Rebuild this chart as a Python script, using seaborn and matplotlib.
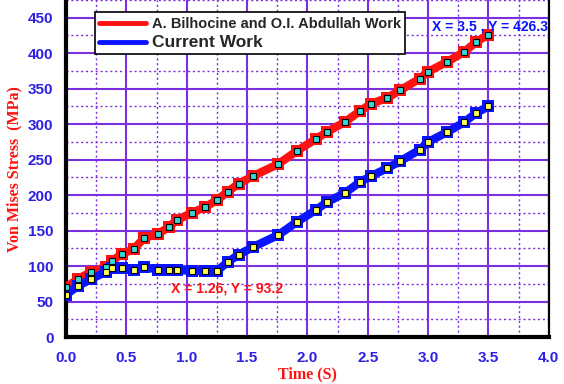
import numpy as np
import pandas as pd
import matplotlib
matplotlib.use("Agg")
import matplotlib.pyplot as plt
from matplotlib.lines import Line2D
from matplotlib.ticker import MultipleLocator
import seaborn as sns

# Data
time_s = [0, 0.1, 0.21, 0.33, 0.38, 0.46, 0.56, 0.65, 0.76, 0.85, 0.92, 1.04, 1.15, 1.25,
          1.34, 1.43, 1.55, 1.76, 1.91, 2.07, 2.16, 2.31, 2.44, 2.53, 2.66, 2.77, 2.93,
          3.0, 3.16, 3.3, 3.4, 3.5]
bilhocine = [70, 82, 92, 99, 107, 117, 124, 140, 145, 155, 165, 175, 183, 193, 205, 216,
             227, 244, 262, 279, 289, 303, 319, 329, 337, 348, 364, 374, 388, 402, 416, 426.3]
current = [60, 72, 82, 92, 97, 97, 95, 99, 95, 95, 95, 93.2, 93, 93, 106, 116, 127, 144,
           162, 179, 190, 203, 219, 227, 238, 248, 264, 275, 289, 303, 316, 325]
series_names = ["A. Bilhocine and O.I. Abdullah Work", "Current Work"]

RED = "#ff1212"
BLUE = "#0a14ff"
TICK_BLUE = "#2d1fe6"
GRID = "#7a2fe0"

df = pd.DataFrame({
    "Time": time_s * 2,
    "Stress": bilhocine + current,
    "Series": [series_names[0]] * len(time_s) + [series_names[1]] * len(time_s),
})

sns.set_style("white")
plt.rcParams["font.family"] = ["Liberation Sans", "DejaVu Sans"]

fig = plt.figure(figsize=(5.64, 3.84), dpi=100)
ax = fig.add_axes([0.117, 0.122, 0.856, 0.878])

# thick lines built from big square markers
sns.lineplot(data=df, x="Time", y="Stress", hue="Series", palette=[RED, BLUE],
             linewidth=6, marker="s", markersize=8.5, markeredgewidth=0,
             legend=False, ax=ax, zorder=3, solid_capstyle="butt")
# small highlight squares
ax.plot(time_s, bilhocine, ls="none", marker="s", markersize=3.8, mfc="#3ad6d6",
        mec="black", mew=0.8, zorder=4)
ax.plot(time_s, current, ls="none", marker="s", markersize=3.8, mfc="#ffff55",
        mec="black", mew=0.8, zorder=4)

ax.set_xlim(0, 4.0)
ax.set_ylim(0, 475)
ax.xaxis.set_major_locator(MultipleLocator(0.5))
ax.xaxis.set_minor_locator(MultipleLocator(0.25))
ax.yaxis.set_major_locator(MultipleLocator(50))
ax.yaxis.set_minor_locator(MultipleLocator(25))
ax.set_xticks(np.arange(0, 4.01, 0.5))
ax.set_xticklabels([f"{v:.1f}" for v in np.arange(0, 4.01, 0.5)])
ax.set_yticks(np.arange(0, 451, 50))

ax.grid(True, which="major", color=GRID, lw=1.5, zorder=0)
ax.grid(True, which="minor", color=GRID, lw=1.0, ls=(0, (1.5, 2)), zorder=0)
ax.set_axisbelow(True)

for lab in ax.get_xticklabels() + ax.get_yticklabels():
    lab.set_color(TICK_BLUE)
    lab.set_fontweight("bold")
    lab.set_fontsize(11)
ax.tick_params(which="major", direction="out", length=5, width=2.2, color="black", pad=4)
ax.tick_params(which="minor", direction="out", length=3, width=1.8, color="black")
ax.tick_params(axis="x", pad=5)

ax.spines["left"].set_linewidth(3)
ax.spines["bottom"].set_linewidth(3)
ax.spines["right"].set_linewidth(1.6)
ax.spines["top"].set_visible(False)
for s in ax.spines.values():
    s.set_color("black")

ax.set_xlabel("Time (S)", color=RED, fontsize=11.5, fontweight="bold",
              family="Liberation Serif", labelpad=1)
ax.set_ylabel("Von Mises Stress  (MPa)", color=RED, fontsize=11.5, fontweight="bold",
              family="Liberation Serif", labelpad=4)

ax.text(1.33, 69, "X = 1.26, Y = 93.2", color=RED, fontsize=10, fontweight="bold",
        ha="center", va="center", zorder=5)
ax.text(3.51, 437, "X = 3.5 , Y = 426.3", color=BLUE, fontsize=10, fontweight="bold",
        ha="center", va="center", zorder=5)

handles = [Line2D([0], [0], color=RED, lw=3.5), Line2D([0], [0], color=BLUE, lw=3.5)]
leg = ax.legend(handles, series_names, loc="upper left", bbox_to_anchor=(0.045, 0.985),
                fancybox=False, framealpha=1, edgecolor="black", handlelength=3.2,
                borderpad=0.3, labelspacing=0.3, handletextpad=0.4,
                prop={"weight": "bold", "size": 10.5})
leg.get_texts()[1].set_fontsize(12.5)
leg.get_frame().set_linewidth(1.2)
leg.set_zorder(6)

fig.savefig("out.png", dpi=100)
